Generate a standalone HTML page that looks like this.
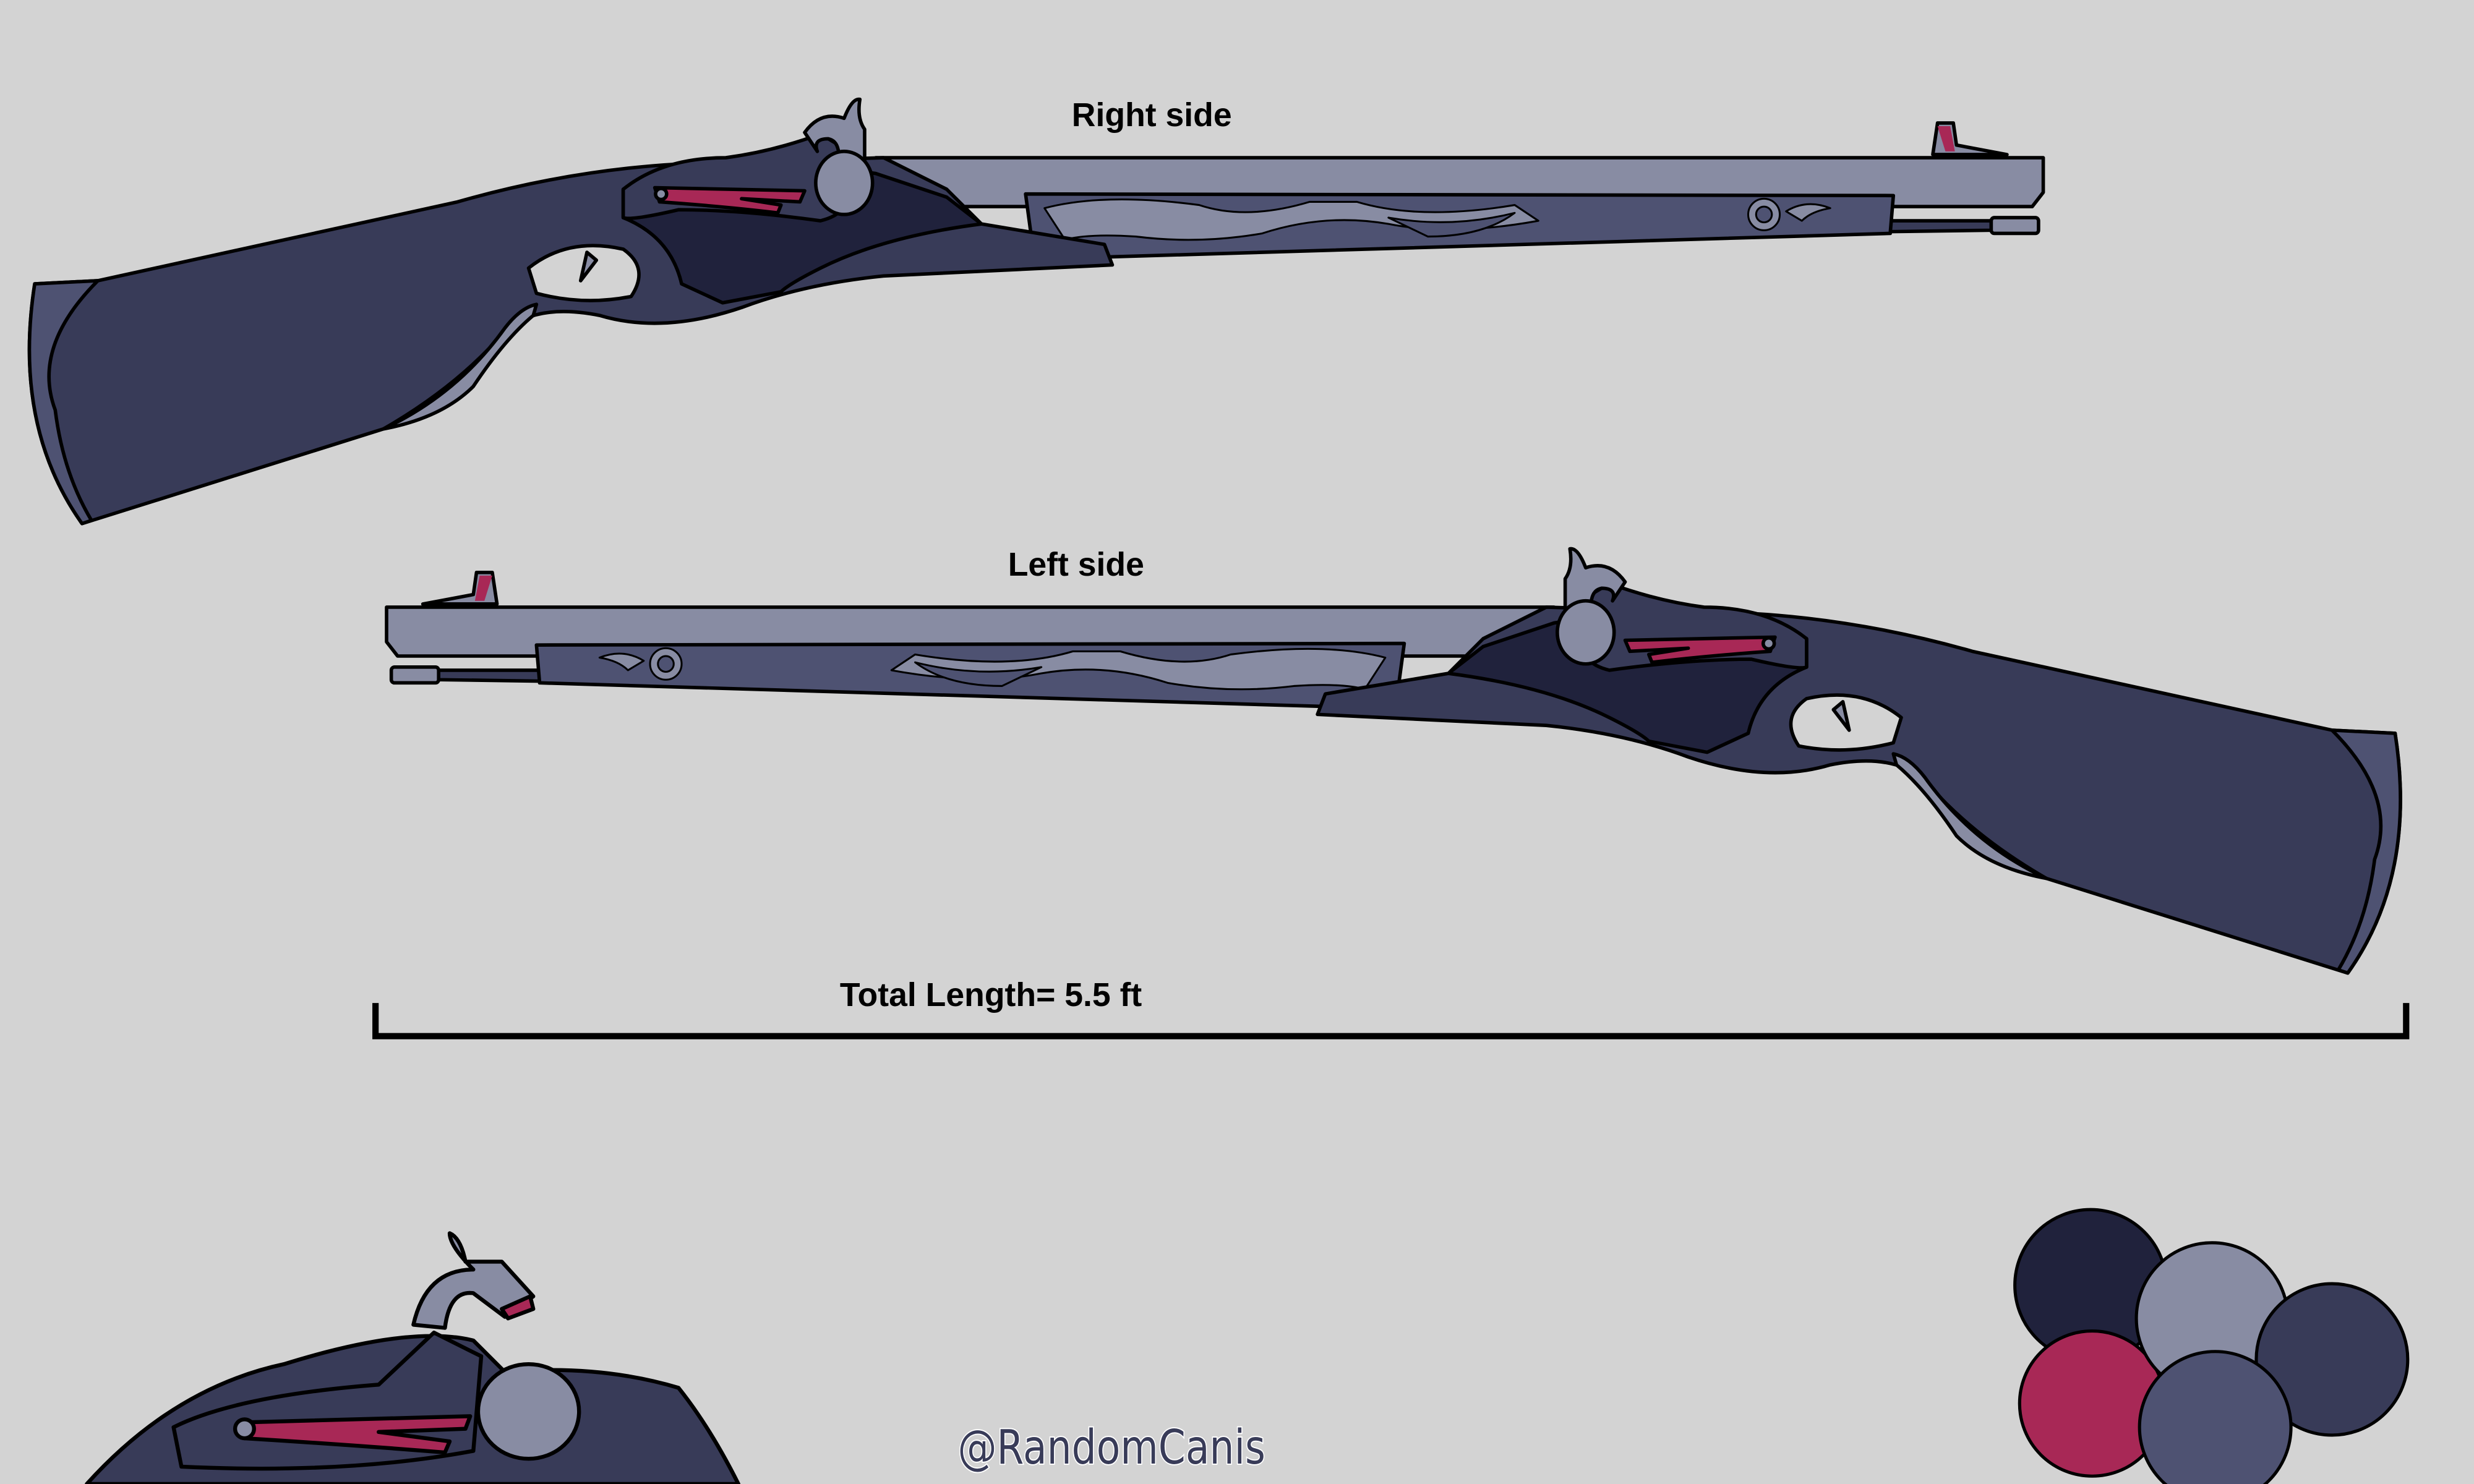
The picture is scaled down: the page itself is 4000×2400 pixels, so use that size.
<!DOCTYPE html>
<html><head><meta charset="utf-8"><style>
html,body{margin:0;padding:0;background:#d3d3d3;}
svg{display:block;}
text{font-family:"Liberation Sans",sans-serif;font-weight:bold;}
</style></head><body>
<svg width="4000" height="2400" viewBox="0 0 1568 941" preserveAspectRatio="none" xmlns="http://www.w3.org/2000/svg">
<rect width="1568" height="941" fill="#d3d3d3"/>
<defs>
<g id="gun" stroke="#000" stroke-width="2.2" stroke-linejoin="round">
  <path d="M555,100 L1295,100 L1295,122 L1288,131 L555,131 Z" fill="#888ca3"/>
  <path d="M1225,98 L1228,78 L1238,78 L1240,92 L1272,98 Z" fill="#888ca3"/>
  <path d="M1228,80 L1236,80 L1239,96 L1233,96 Z" fill="#a82856" stroke="none"/>
  <path d="M1190,140 L1262,140 L1262,146 L1190,147 Z" fill="#383b58"/>
  <rect x="1262" y="138" width="30" height="10" rx="2" fill="#888ca3"/>
  <path d="M650,123 L1200,124 L1198,148 L700,163 L655,160 Z" fill="#4e5272"/>
  <g fill="#888ca3" stroke-width="1.2">
    <path d="M662,132 Q700,122 760,130 Q790,140 830,128 L860,128 Q900,140 960,130 L975,140 Q920,150 880,142 Q840,135 800,148 Q760,155 720,150 Q690,148 675,152 Z"/>
    <path d="M880,138 Q920,145 960,135 Q940,150 905,150 Z" fill="#4e5272"/>
    <circle cx="1118" cy="136" r="10"/><circle cx="1118" cy="136" r="5" fill="#4e5272"/>
    <path d="M1132,134 Q1145,126 1160,132 Q1148,134 1142,140 Z"/>
  </g>
  <path d="M22,180 L62,178 Q180,152 290,128 Q360,108 430,104 L560,100 L600,120 L622,142 L700,155 L705,168 L560,175 Q510,180 470,195 Q420,212 380,200 Q340,192 320,210 Q290,245 243,272 L52,332 Q8,270 22,180 Z" fill="#383b58"/>
  <path d="M22,180 L62,178 Q20,220 35,260 Q40,300 58,330 L52,332 Q8,270 22,180 Z" fill="#4e5272"/>
  <path d="M243,272 Q290,250 320,208 Q330,195 340,193 L338,200 Q320,215 300,245 Q280,265 243,272 Z" fill="#888ca3"/>
  <path d="M335,170 Q360,150 395,158 Q412,170 400,188 Q370,194 340,186 Z" fill="#d3d3d3"/>
  <path d="M372,160 L368,178 L378,165 Z" fill="#888ca3"/>
  <path d="M395,120 Q440,95 520,105 L555,110 L600,125 L622,142 Q560,150 520,170 Q500,180 495,185 L458,192 L432,180 Q425,150 395,138 Z" fill="#20223c"/>
  <path d="M395,120 Q420,100 460,100 Q490,96 520,85 L545,100 L535,120 Q540,135 520,140 Q470,133 430,133 Q400,140 395,138 Z" fill="#383b58"/>
  <path d="M510,84 Q520,70 535,75 Q540,62 545,63 Q543,75 548,82 L548,112 L530,112 Q535,90 525,88 Q515,88 518,96 Z" fill="#888ca3"/>
  <ellipse cx="535" cy="116" rx="18" ry="20" fill="#888ca3"/>
  <path d="M415,119 L510,121 L507,128 L470,126 L495,130 L493,135 Q460,131 418,128 Z" fill="#a82856"/>
  <circle cx="419" cy="123" r="3.5" fill="#888ca3"/>
</g>
</defs>
<use href="#gun"/>
<use href="#gun" transform="translate(1540,285) scale(-1,1)"/>
<text x="730" y="80" font-size="21" text-anchor="middle">Right side</text>
<text x="682" y="365" font-size="21" text-anchor="middle">Left side</text>
<text x="628" y="638" font-size="21" text-anchor="middle">Total Length= 5.5 ft</text>
<path d="M238,636 L238,657 L1525,657 L1525,636" fill="none" stroke="#000" stroke-width="4"/>
<g stroke="#000" stroke-width="2.5" stroke-linejoin="round">
  <path d="M55,941 Q110,880 180,865 Q260,840 300,850 L320,870 Q380,865 430,880 Q450,905 468,941 Z" fill="#383b58"/>
  <path d="M110,905 Q150,885 240,878 L275,845 L305,860 L300,920 Q220,935 115,930 Z" fill="#383b58"/>
  <path d="M262,840 Q270,805 300,805 Q285,790 285,782 Q292,785 295,800 L318,800 L338,822 L320,835 L300,820 Q285,818 282,842 Z" fill="#888ca3"/>
  <path d="M318,830 L336,822 L338,830 L322,836 Z" fill="#a82856"/>
  <ellipse cx="335" cy="895" rx="32" ry="30" fill="#888ca3"/>
  <path d="M152,902 L298,898 L295,906 L240,908 L285,914 L282,921 Q220,916 155,912 Z" fill="#a82856"/>
  <circle cx="155" cy="906" r="6" fill="#888ca3"/>
</g>
<g stroke="#000" stroke-width="2">
  <circle cx="1325" cy="815" r="48" fill="#20223c"/>
  <circle cx="1326" cy="890" r="46" fill="#a82856"/>
  <circle cx="1402" cy="836" r="48" fill="#888ca3"/>
  <circle cx="1478" cy="862" r="48" fill="#383b58"/>
  <circle cx="1404" cy="905" r="48" fill="#4e5272"/>
</g>
<text x="607" y="928" font-size="30" textLength="195" lengthAdjust="spacingAndGlyphs" fill="#383b58" stroke="#fff" stroke-width="1.5" paint-order="stroke" style="font-weight:normal;font-family:'DejaVu Sans',sans-serif">@RandomCanis</text>
</svg>
</body></html>
